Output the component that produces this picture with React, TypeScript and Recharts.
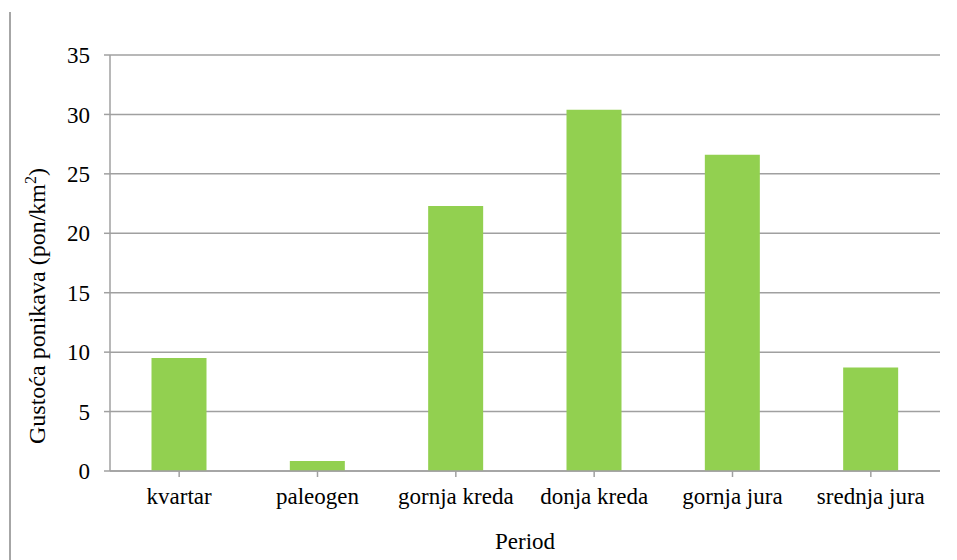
import React from 'react'
import { BarChart, Bar, XAxis, YAxis, CartesianGrid } from 'recharts'

const periods = ['kvartar', 'paleogen', 'gornja kreda', 'donja kreda', 'gornja jura', 'srednja jura']
const gustoca = [9.5, 0.84, 22.3, 30.4, 26.6, 8.7]
const yTicks = [0, 5, 10, 15, 20, 25, 30, 35]

const data = periods.map((p, i) => ({ period: p, gustoca: gustoca[i] }))

const font = "'Liberation Serif', 'Times New Roman', Times, serif"

// rotated axis title, baseline sits at x=45
const YLabel = () => {
  const cx = 45
  const cy = 306
  return (
    <text x={cx} y={cy} transform={`rotate(-90 ${cx} ${cy})`} textAnchor="middle" style={{ fontFamily: font }} fontSize={24} fill="#000">
      Gustoća ponikava (pon/km<tspan dy={-9} fontSize={16}>2</tspan><tspan dy={9}>)</tspan>
    </text>
  )
}

export default function App() {
  return (
    <div style={{ position: 'absolute', left: 0, top: 0, width: 957, height: 560, background: '#fff', fontFamily: font }}>
      <div style={{ position: 'absolute', left: 9, top: 12, width: 0, height: 548, borderLeft: '2px solid #a6a6a6' }} />
      <BarChart width={957} height={560} data={data} margin={{ top: 55, right: 17, bottom: 0, left: 0 }} barCategoryGap="30%" style={{ fontFamily: font }}>
        <CartesianGrid vertical={false} stroke="#a0a0a0" strokeWidth={1.5} />
        <XAxis
          dataKey="period"
          height={89}
          tickSize={6}
          tickMargin={11}
          stroke="#a0a0a0"
          strokeWidth={1.5}
          tick={{ fill: '#000', fontSize: 23, style: { fontFamily: font } }}
          interval={0}
          label={{ value: 'Period', position: 'insideBottom', offset: 11, fill: '#000', fontSize: 23, style: { fontFamily: font } }}
        />
        <YAxis
          width={110}
          domain={[0, 35]}
          ticks={yTicks}
          tickSize={6}
          tickMargin={14}
          stroke="#a0a0a0"
          strokeWidth={1.5}
          tick={{ fill: '#000', fontSize: 23, style: { fontFamily: font } }}
          label={<YLabel />}
        />
        <Bar dataKey="gustoca" fill="#92d050" isAnimationActive={false} />
      </BarChart>
    </div>
  )
}
